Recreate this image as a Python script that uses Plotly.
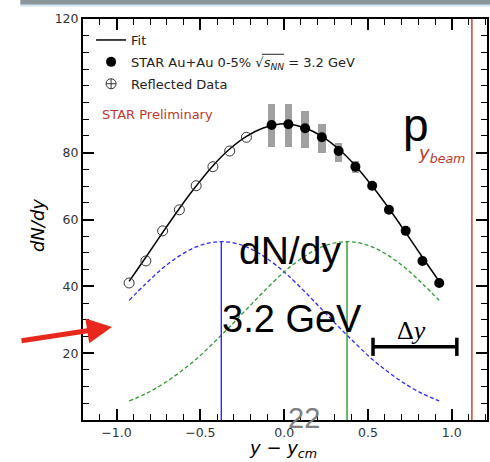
import plotly.graph_objects as go

# ---------------- data ----------------
data_x = [-0.075, 0.025, 0.125, 0.225, 0.325, 0.425, 0.525, 0.625, 0.725, 0.825, 0.925]
data_y = [88.3, 88.5, 87.3, 84.6, 80.5, 75.8, 70.1, 62.9, 56.6, 47.6, 41.0]

refl_x = [-0.925, -0.825, -0.725, -0.625, -0.525, -0.425, -0.325, -0.225]
refl_y = [41.0, 47.6, 56.6, 62.9, 70.1, 75.8, 80.5, 84.6]

sys_x = [-0.075, 0.025, 0.125, 0.225, 0.325, 0.425]
sys_lo = [81.8, 81.8, 81.5, 80.0, 77.3, 73.8]
sys_hi = [94.6, 94.6, 92.5, 88.7, 83.0, 77.6]

curve_x = [-0.925, -0.825, -0.725, -0.625, -0.525, -0.425, -0.325, -0.225, -0.125, -0.025,
           0.025, 0.125, 0.225, 0.325, 0.425, 0.525, 0.625, 0.725, 0.825, 0.925]
blue_y = [35.8, 40.8, 45.4, 49.1, 51.8, 53.2, 53.2, 51.8, 49.1, 45.4,
          43.2, 38.3, 33.1, 27.9, 22.9, 18.2, 14.2, 10.7, 7.9, 5.7]
green_y = [5.7, 7.9, 10.7, 14.2, 18.2, 22.9, 27.9, 33.1, 38.3, 43.2,
           45.4, 49.1, 51.8, 53.2, 53.2, 51.8, 49.1, 45.4, 40.8, 35.8]
fit_y = [41.5, 48.7, 56.1, 63.3, 70.0, 76.1, 81.1, 84.9, 87.4, 88.6,
         88.6, 87.4, 84.9, 81.1, 76.1, 70.0, 63.3, 56.1, 48.7, 41.5]

peak_x = [-0.375, 0.375]
peak_y = [53.4, 53.4]
y_beam = 1.12
dy_bar_x = [0.53, 1.03]
dy_bar_y = [21.9, 21.9]

x_range = [-1.2, 1.21]
y_range = [0, 120]
xtick_vals = [-1.0, -0.5, 0.0, 0.5, 1.0]
xtick_text = ["\u22121.0", "\u22120.5", "0.0", "0.5", "1.0"]
ytick_vals = [20, 40, 60, 80, 120]
ytick_text = ["20", "40", "60", "80", "120"]

RED = "#c0392b"

fig = go.Figure()

# systematic boxes
fig.add_trace(go.Bar(
    x=sys_x, y=[h - l for h, l in zip(sys_hi, sys_lo)], base=sys_lo, width=0.045,
    marker=dict(color="rgba(128,128,128,0.75)", line=dict(width=0)),
    showlegend=False, hoverinfo="skip"))

# Gaussian components
fig.add_trace(go.Scatter(x=curve_x, y=blue_y, mode="lines", line=dict(color="#2a2aff", width=1.3, dash="4px,2.5px", shape="spline"),
                         showlegend=False))
fig.add_trace(go.Scatter(x=curve_x, y=green_y, mode="lines", line=dict(color="#2e9a2e", width=1.3, dash="4px,2.5px", shape="spline"),
                         showlegend=False))
# peak lines
fig.add_trace(go.Scatter(x=[peak_x[0], peak_x[0]], y=[0, peak_y[0]], mode="lines", line=dict(color="#2a2aff", width=1.4), showlegend=False))
fig.add_trace(go.Scatter(x=[peak_x[1], peak_x[1]], y=[0, peak_y[1]], mode="lines", line=dict(color="#2e9a2e", width=1.4), showlegend=False))
# beam rapidity
fig.add_trace(go.Scatter(x=[y_beam, y_beam], y=y_range, mode="lines", line=dict(color="#d03030", width=1.4), showlegend=False))

# fit
fig.add_trace(go.Scatter(x=curve_x, y=fit_y, mode="lines", name="Fit",
                         line=dict(color="black", width=1.5, shape="spline"), legendgroup="a"))
# data
fig.add_trace(go.Scatter(x=data_x, y=data_y, mode="markers",
                         name="STAR Au+Au 0-5% \u221a<i>s</i><sub><i>NN</i></sub> = 3.2 GeV",
                         marker=dict(symbol="circle", size=10, color="black"), legendgroup="b"))
# reflected (plain open circles in the plot, crosshair symbol in the legend)
fig.add_trace(go.Scatter(x=refl_x, y=refl_y, mode="markers", name="Reflected Data",
                         marker=dict(symbol="circle-open", size=10, color="#333333", line=dict(width=1)),
                         legendgroup="c", showlegend=False))
fig.add_trace(go.Scatter(x=[None], y=[None], mode="markers", name="Reflected Data",
                         marker=dict(symbol="circle-cross-open", size=10, color="#333333", line=dict(width=1)),
                         legendgroup="c", showlegend=True))

# delta-y bar
fig.add_trace(go.Scatter(x=dy_bar_x, y=dy_bar_y, mode="lines+markers",
                         line=dict(color="black", width=3.5),
                         marker=dict(symbol="line-ns", size=13, line=dict(width=3.5, color="black")),
                         showlegend=False))

# invisible trace that carries the mirrored (top/right) axes
fig.add_trace(go.Scatter(x=[None], y=[None], xaxis="x2", yaxis="y2", showlegend=False, hoverinfo="skip"))

axis_common = dict(showline=True, linecolor="black", linewidth=2,
                   ticks="inside", ticklen=11, tickwidth=1.5, tickcolor="black",
                   showgrid=False, zeroline=False,
                   tickfont=dict(family="DejaVu Sans", size=12.5, color="#333333"))
xminor = dict(dtick=0.1, tick0=0, ticks="inside", ticklen=6, tickwidth=1.2, tickcolor="black")
yminor = dict(dtick=5, tick0=0, ticks="inside", ticklen=6, tickwidth=1.2, tickcolor="black")

fig.update_layout(
    xaxis=dict(range=x_range, tickvals=xtick_vals, ticktext=xtick_text, minor=xminor, **axis_common),
    yaxis=dict(range=y_range, tickvals=ytick_vals, ticktext=ytick_text, minor=yminor, **axis_common),
    xaxis2=dict(range=x_range, tickvals=xtick_vals, minor=xminor, overlaying="x", side="top", anchor="y2",
                showticklabels=False, **axis_common),
    yaxis2=dict(range=y_range, tickvals=ytick_vals, minor=yminor, overlaying="y", side="right", anchor="x2",
                showticklabels=False, **axis_common),
)

ann = []
def txt(x, y, text, size, color="black", family="Liberation Sans", xref="x", yref="y", **kw):
    d = dict(x=x, y=y, xref=xref, yref=yref, text=text, showarrow=False,
             xanchor="center", yanchor="middle",
             font=dict(family=family, size=size, color=color))
    d.update(kw)
    ann.append(d)

txt(-1.10, 91.3, "STAR Preliminary", 13, RED, "DejaVu Sans", xanchor="left")
txt(0.785, 88.3, "p", 46)
txt(0.94, 79.6, "<i>y<sub>beam</sub></i>", 18, RED, "DejaVu Sans")
txt(0.034, 50.6, "dN/dy", 39)
txt(0.045, 30.2, "3.2 GeV", 38)
txt(0.76, 26.8, "\u0394<i>y</i>", 26, "black", "Liberation Serif")
txt(0.116, 0.6, "22", 29, "#808080")
txt(-0.111, 0.484, "<i>dN/dy</i>", 18, "black", "DejaVu Sans", xref="paper", yref="paper", textangle=-90)
txt(0.495, -0.072, "<i>y</i> \u2212 <i>y<sub>cm</sub></i>", 18, "black", "DejaVu Sans", xref="paper", yref="paper")

# red slide arrow
ann.append(dict(x=0.0718, y=0.2319, xref="paper", yref="paper", text="", showarrow=True,
                ax=-92, ay=14, arrowhead=2, arrowsize=1.0, arrowwidth=5, arrowcolor="#e8281c", standoff=0))

shapes = [
    dict(type="rect", xref="paper", yref="paper", x0=-0.155, x1=1.02, y0=1.035, y1=1.06,
         fillcolor="#8a959c", line=dict(width=0), layer="above"),
    dict(type="rect", xref="paper", yref="paper", x0=-0.155, x1=1.02, y0=1.031, y1=1.036,
         fillcolor="#cfe3ee", line=dict(width=0), layer="above"),
    # overline of the square root in the legend label
    dict(type="line", xref="paper", yref="paper", x0=0.443, x1=0.4975, y0=0.912, y1=0.912,
         line=dict(color="#222222", width=1)),
]

fig.update_layout(
    width=490, height=462,
    margin=dict(l=83, r=3, t=19, b=42),
    paper_bgcolor="white", plot_bgcolor="white",
    annotations=ann, shapes=shapes,
    bargap=0,
    legend=dict(x=0.02, y=0.985, xanchor="left", yanchor="top", bgcolor="rgba(0,0,0,0)",
                font=dict(family="DejaVu Sans", size=13, color="#222222"),
                traceorder="grouped", tracegroupgap=2, itemwidth=30),
    showlegend=True,
)

fig.write_html("out.html", post_script="document.body.style.margin='0px';",
               config={"displayModeBar": False})
